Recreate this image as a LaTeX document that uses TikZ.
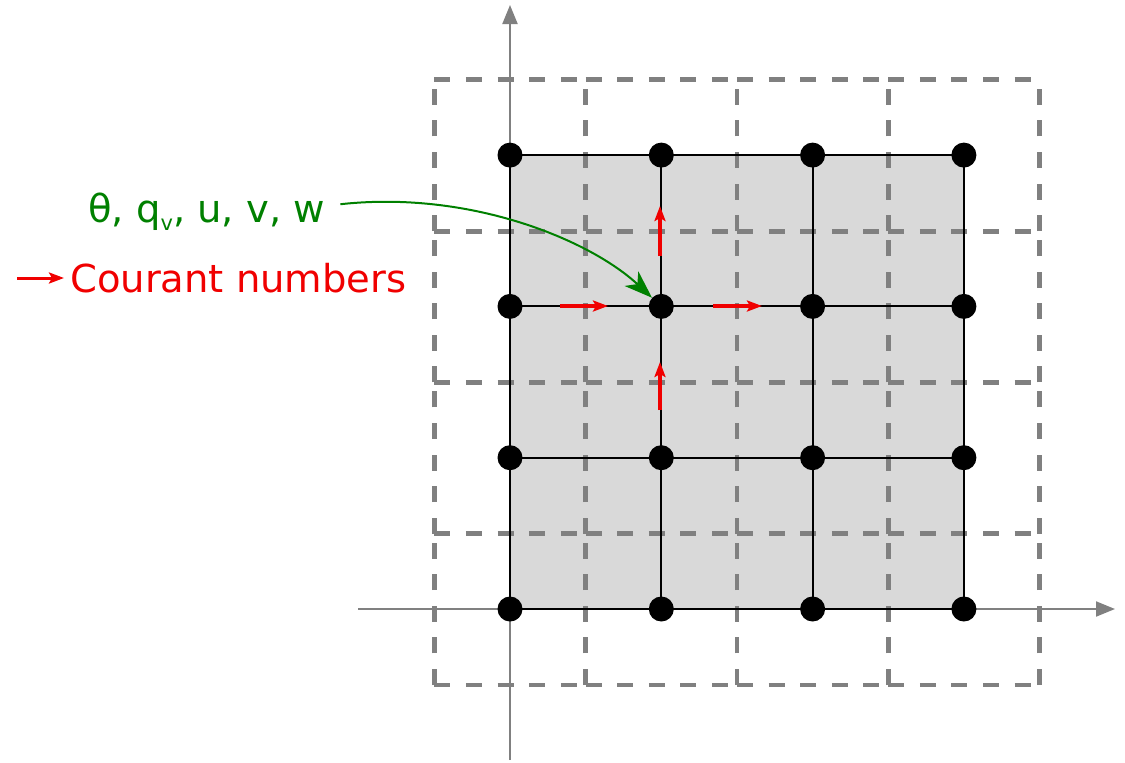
\documentclass[tikz,border=0pt]{standalone}
\usepackage{fontspec}
\setmainfont{DejaVu Sans}
\usetikzlibrary{arrows.meta}
\definecolor{cgreen}{RGB}{0,128,0}
\definecolor{cgray}{RGB}{128,128,128}
\definecolor{cfill}{RGB}{217,217,217}
\definecolor{cred}{RGB}{240,0,0}
\pgfdeclarelayer{bg}
\pgfsetlayers{bg,main}
\begin{document}
\begin{tikzpicture}[x=1pt,y=-1pt,
 dot/.style={circle,fill=black,minimum size=25pt,inner sep=0pt},
 gridline/.style={black,line width=2pt},
 dcell/.style={cgray,line width=4.8pt,dash pattern=on 16pt off 15.6pt},
 axisline/.style={cgray,line width=2pt,-{Triangle[length=19pt,width=15pt]}},
 courant/.style={cred,line width=4pt,-{Stealth[length=15pt,width=11pt,inset=3pt]}},
 pointer/.style={cgreen,line width=2pt,-{Stealth[length=28pt,width=20pt,inset=8pt]}},
 lbltext/.style={font=\fontsize{38.5}{46}\selectfont, inner sep=0pt, anchor=base west}
]
\useasboundingbox (0,0) rectangle (1125,763);
% grid points
\foreach \i in {0,...,3}
  \foreach \j in {0,...,3}
    \node[dot] (p\i\j) at ({510+151.3*\i},{609-151.3*\j}) {};
% axes end points
\coordinate (axb) at (510,760);
\coordinate (axt) at (510,5);
\coordinate (axl) at (358,609);
\coordinate (axr) at (1115,609);
\begin{pgfonlayer}{bg}
  \fill[cfill] (p00.center) rectangle (p33.center);
  % dashed cells: horizontal edges left to right, vertical edges bottom to top
  \foreach \i in {0,...,3}
    \foreach \j in {0,...,4}
      \draw[dcell] ({434.35+151.3*\i},{685-151.3*\j}) -- ++(151.3,0);
  \foreach \i in {0,...,4}
    \foreach \j in {0,...,3}
      \draw[dcell] ({434.35+151.3*\i},{685-151.3*\j}) -- ++(0,-151.3);
  \draw[axisline] (axb) -- (axt);
  \draw[axisline] (axl) -- (axr);
  \foreach \i in {0,...,3} {
    \draw[gridline] (p\i0.center) -- (p\i3.center);
    \draw[gridline] (p0\i.center) -- (p3\i.center);
  }
\end{pgfonlayer}
% labels
\node[lbltext, text=cgreen] (lbl) at (88,222) {θ, q\raisebox{-8pt}{\fontsize{21}{21}\selectfont v}, u, v, w};
\node[lbltext, text=cred] (cour) at (70,292) {Courant numbers};
% Courant number arrows
\coordinate (ca1) at (560,306); \coordinate (ca2) at (608,306);
\coordinate (cb1) at (713,306); \coordinate (cb2) at (762,306);
\coordinate (cc1) at (660,256); \coordinate (cc2) at (660,206);
\coordinate (cd1) at (660,410); \coordinate (cd2) at (660,362);
\draw[courant] (ca1) -- (ca2);
\draw[courant] (cb1) -- (cb2);
\draw[courant] (cc1) -- (cc2);
\draw[courant] (cd1) -- (cd2);
% legend arrow
\coordinate (lg1) at (17,278); \coordinate (lg2) at (64,278);
\draw[courant, line width=3pt] (lg1) -- (lg2);
% pointer to the grid point
\draw[pointer] ([xshift=15pt,yshift=7pt]lbl.east) .. controls (470,190) and (590,240) .. (p12);
\end{tikzpicture}
\end{document}
